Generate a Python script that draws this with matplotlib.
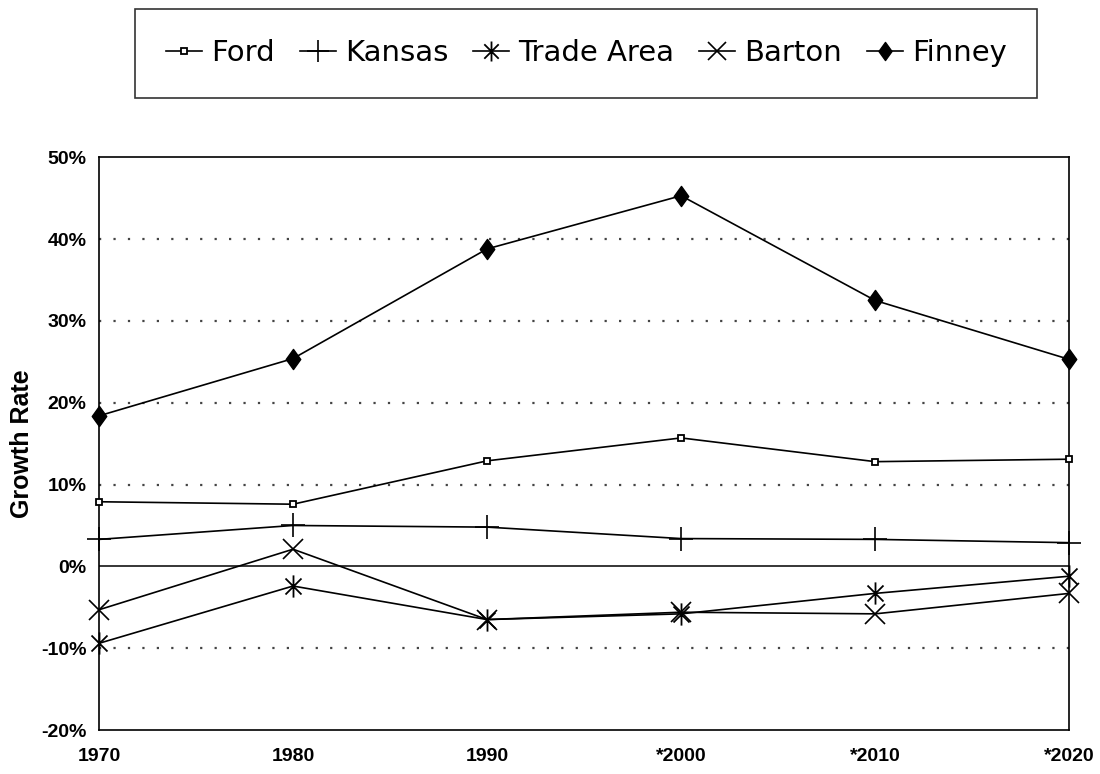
import matplotlib
matplotlib.use("Agg")
import matplotlib.pyplot as plt
from matplotlib.path import Path
import numpy as np

years = ["1970", "1980", "1990", "*2000", "*2010", "*2020"]
ford = [7.9, 7.6, 12.9, 15.7, 12.8, 13.1]
kansas = [3.3, 5.0, 4.8, 3.4, 3.3, 2.9]
trade_area = [-9.4, -2.4, -6.5, -5.8, -3.3, -1.2]
barton = [-5.3, 2.1, -6.5, -5.6, -5.8, -3.3]
finney = [18.4, 25.4, 38.8, 45.3, 32.5, 25.3]
yticks = [-20, -10, 0, 10, 20, 30, 40, 50]
ytick_labels = ["-20%", "-10%", "0%", "10%", "20%", "30%", "40%", "50%"]

plt.rcParams['font.family'] = ['Liberation Sans', 'DejaVu Sans']

fig = plt.figure(figsize=(11, 7.74), dpi=100)
ax = fig.add_axes([0.090, 0.0568, 0.882, 0.740])

x = np.arange(len(years))

# custom asterisk marker: vertical bar + X
d = 0.72
ast = Path([(0, -1), (0, 1), (-d, -d), (d, d), (-d, d), (d, -d)],
           [Path.MOVETO, Path.LINETO, Path.MOVETO, Path.LINETO, Path.MOVETO, Path.LINETO])
# diamond marker, a bit taller than wide
dia = Path([(0, 1), (0.72, 0), (0, -1), (-0.72, 0), (0, 1)],
           [Path.MOVETO, Path.LINETO, Path.LINETO, Path.LINETO, Path.CLOSEPOLY])

# grid lines
for g in [10, 20, 30, 40, -10]:
    ax.axhline(g, color='#444444', lw=1.6, ls=(0, (1, 5.5)), zorder=1)
ax.axhline(0, color='black', lw=1.1, zorder=1)

lw = 1.2
l1, = ax.plot(x, ford, color='black', lw=lw, marker='s', ms=5, mfc='white', mec='black', mew=1.3,
              clip_on=False, zorder=3, label='Ford')
l2, = ax.plot(x, kansas, color='black', lw=lw, marker='+', ms=17, mew=1.2,
              clip_on=False, zorder=3, label='Kansas')
l3, = ax.plot(x, trade_area, color='black', lw=lw, marker=ast, ms=16, mew=1.3,
              clip_on=False, zorder=3, label='Trade Area')
l4, = ax.plot(x, barton, color='black', lw=lw, marker='x', ms=15, mew=1.2,
              clip_on=False, zorder=3, label='Barton')
l5, = ax.plot(x, finney, color='black', lw=lw, marker=dia, ms=14.5, mfc='black', mec='black',
              clip_on=False, zorder=3, label='Finney')

ax.set_xlim(0, len(years) - 1)
ax.set_ylim(-20, 50)
ax.set_xticks(x)
ax.set_xticklabels(years, fontsize=14, fontweight='bold')
ax.set_yticks(yticks)
ax.set_yticklabels(ytick_labels, fontsize=14, fontweight='bold')
ax.tick_params(length=0, pad=9)
ax.tick_params(axis='x', pad=13)
for s in ax.spines.values():
    s.set_linewidth(1.2)
ax.set_ylabel('Growth Rate', fontsize=18, fontweight='bold', labelpad=5)

leg = fig.legend(handles=[l1, l2, l3, l4, l5], loc='center', bbox_to_anchor=(0.533, 0.931),
                 ncol=5, frameon=True, fancybox=False, edgecolor='black',
                 prop={'family': 'DejaVu Sans', 'size': 21},
                 handlelength=1.25, handletextpad=0.3, columnspacing=0.85,
                 borderpad=1.05, markerscale=0.9)
leg.get_frame().set_linewidth(1.2)

fig.savefig('out.png', dpi=100, facecolor='white')
